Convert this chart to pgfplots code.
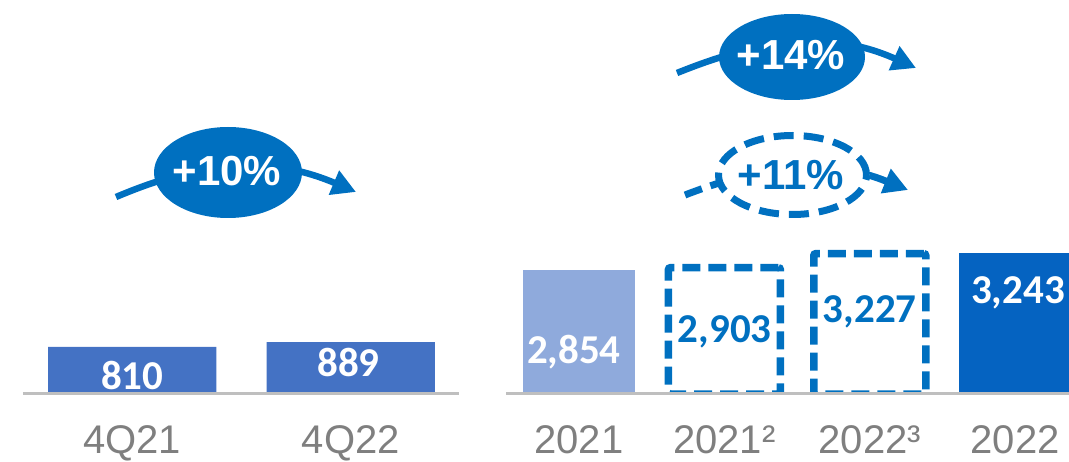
\documentclass[border=0pt]{standalone}
\usepackage{fontspec}
\usepackage{pgfplots}
\pgfplotsset{compat=1.18}
\usetikzlibrary{arrows.meta}
\newfontfamily\carlito{Carlito}
\newfontfamily\lib{Liberation Sans}
\definecolor{bq}{HTML}{4472C4}
\definecolor{blight}{HTML}{8FAADC}
\definecolor{bdark}{HTML}{0563C1}
\definecolor{bmid}{HTML}{0070C0}
\definecolor{tgray}{HTML}{7F7F7F}
\definecolor{lgray}{HTML}{BFBFBF}
\begin{document}
\begin{tikzpicture}[x=1pt,y=1pt]
\path[use as bounding box] (0,0) rectangle (1069,461);

% left growth arrow
\draw[bmid, line width=6.5pt, -{Triangle[length=24pt,width=25pt]}] (116,264) to[out=23,in=157] (356,269);
\fill[bmid] (228,288.5) ellipse [x radius=74, y radius=45.5];
\node[text=white, font=\lib\bfseries\fontsize{42}{42}\selectfont] at (227,290) {+10\%};

% right solid growth arrow
\draw[bmid, line width=6.5pt, -{Triangle[length=24pt,width=25pt]}] (677,388) to[out=22,in=156] (916,393);
\fill[bmid] (792,404) ellipse [x radius=73, y radius=43];
\node[text=white, font=\lib\bfseries\fontsize{42}{42}\selectfont] at (791,406) {+14\%};

% right dashed growth arrow
\draw[bmid, line width=7pt, dash pattern=on 18pt off 9pt, -{Triangle[length=24pt,width=25pt]}] (685,266) to[out=21,in=158] (908,271);
\draw[bmid, line width=7pt, dash pattern=on 20pt off 10pt, fill=white] (792.5,286) ellipse [x radius=74, y radius=39.5];
\node[text=bmid, font=\lib\bfseries\fontsize{42}{42}\selectfont] at (791,286) {+11\%};

\begin{axis}[at={(23pt,67pt)}, anchor=south west,
  x=218.5pt, y=0.0583pt, xmin=-0.5, xmax=1.497, ymin=0, ymax=6750,
  axis line style={draw=none}, ytick=\empty, xtick={0,1}, xticklabels={4Q21,4Q22},
  major tick length=0pt,
  xticklabel style={font=\lib\fontsize{40}{40}\selectfont, text=tgray, anchor=base, text depth=0pt, inner sep=0pt, yshift=-59pt}]
\addplot[ybar, bar width=0.769, fill=bq, draw=none] coordinates {(0,810) (1,889)};
\draw[lgray, line width=4pt] (axis cs:-0.5,0) -- (axis cs:1.497,0);
\node[text=white, font=\carlito\bfseries\fontsize{41}{41}\selectfont] at (axis cs:0,317) {810};
\node[text=white, font=\carlito\bfseries\fontsize{41}{41}\selectfont] at (axis cs:0.99,540) {889};
\end{axis}

\begin{axis}[at={(506pt,67pt)}, anchor=south west,
  x=145.4pt, y=0.0435pt, xmin=-0.502, xmax=3.370, ymin=0, ymax=9050,
  axis line style={draw=none}, ytick=\empty, xtick={0,1,2,3}, xticklabels={2021,2021²,2022³,2022},
  major tick length=0pt,
  xticklabel style={font=\lib\fontsize{40}{40}\selectfont, text=tgray, anchor=base, text depth=0pt, inner sep=0pt, yshift=-59pt}]
\addplot[ybar, bar width=0.77, fill=blight, draw=none] coordinates {(0,2854)};
\addplot[ybar, bar width=0.77, fill=none, draw=bmid, line width=7.5pt, dash pattern=on 18pt off 8pt, rounded corners=2pt] coordinates {(1,2903) (2,3227)};
\addplot[ybar, bar width=0.77, fill=bdark, draw=none] coordinates {(3,3243)};
\draw[lgray, line width=4pt] (axis cs:-0.502,0) -- (axis cs:3.370,0);
\node[text=white, font=\carlito\bfseries\fontsize{41}{41}\selectfont] at (axis cs:-0.035,965) {2,854};
\node[text=bmid, font=\carlito\bfseries\fontsize{41}{41}\selectfont] at (axis cs:1.003,1425) {2,903};
\node[text=bmid, font=\carlito\bfseries\fontsize{41}{41}\selectfont] at (axis cs:2.0,1885) {3,227};
\node[text=white, font=\carlito\bfseries\fontsize{41}{41}\selectfont] at (axis cs:3.019,2322) {3,243};
\end{axis}
\end{tikzpicture}
\end{document}
